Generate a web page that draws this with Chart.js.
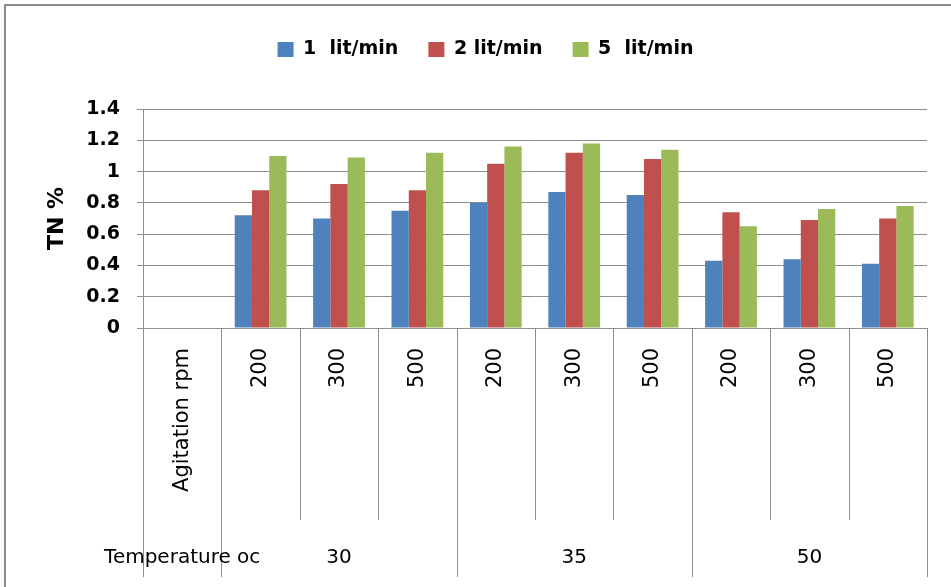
<!DOCTYPE html>
<html>
<head>
<meta charset="utf-8">
<script src="https://cdn.jsdelivr.net/npm/chart.js@4.4.1/dist/chart.umd.min.js"></script>
<style>
  body { margin: 0; background: #fff; }
  #wrap { position: relative; width: 951px; height: 587px; }
  #frame { position: absolute; left: 4px; top: 4px; right: 0; bottom: 0;
           border-top: 2px solid #8c8c8c; border-left: 2px solid #8c8c8c; pointer-events: none; }
</style>
</head>
<body>
<div id="wrap">
  <canvas id="chart" width="951" height="587"></canvas>
  <div id="frame"></div>
</div>
<script>
// categories on the x axis (first column is the row header)
const categories = ['Agitation rpm', '200', '300', '500', '200', '300', '500', '200', '300', '500'];
const groupTitle = 'Temperature oc';
const temperatures = ['30', '35', '50'];
const temperatureSpan = [3, 3, 3];

const seriesNames = ['1  lit/min', '2 lit/min', '5  lit/min'];
const flow1 = [null, 0.72, 0.70, 0.75, 0.80, 0.87, 0.85, 0.43, 0.44, 0.41];
const flow2 = [null, 0.88, 0.92, 0.88, 1.05, 1.12, 1.08, 0.74, 0.69, 0.70];
const flow5 = [null, 1.10, 1.09, 1.12, 1.16, 1.18, 1.14, 0.65, 0.76, 0.78];

const colors = ['#4F81BD', '#C0504D', '#9BBB59'];
const lineColor = '#8e8e8e';
const fontFamily = '"DejaVu Sans", sans-serif';

// draws the second level of the category axis: separators + temperature labels
const groupAxis = {
    id: 'groupAxis',
    afterDraw(chart) {
        const {ctx, chartArea, scales: {x}} = chart;
        const n = categories.length;
        const edge = i => {
            if (i <= 0) return chartArea.left;
            if (i >= n) return chartArea.right;
            return (x.getPixelForValue(i - 1) + x.getPixelForValue(i)) / 2;
        };
        const groupEdges = [0, 1];
        let k = 1;
        temperatureSpan.forEach(s => { k += s; groupEdges.push(k); });

        ctx.save();
        ctx.strokeStyle = lineColor;
        ctx.lineWidth = 1;
        for (let i = 0; i <= n; i++) {
            const xp = Math.round(edge(i)) + 0.5;
            const end = groupEdges.includes(i) ? x.bottom : x.bottom - 57;
            ctx.beginPath();
            ctx.moveTo(xp, chartArea.bottom);
            ctx.lineTo(xp, end);
            ctx.stroke();
        }
        ctx.fillStyle = '#000';
        ctx.font = '20px ' + fontFamily;
        ctx.textAlign = 'center';
        ctx.textBaseline = 'middle';
        const ly = x.bottom - 19;
        ctx.fillText(groupTitle, x.getPixelForValue(0), ly);
        let start = 1;
        temperatures.forEach((t, j) => {
            const s = temperatureSpan[j];
            ctx.fillText(t, (edge(start) + edge(start + s)) / 2, ly);
            start += s;
        });
        ctx.restore();
    }
};

new Chart(document.querySelector('#chart'), {
    type: 'bar',
    data: {
        labels: categories,
        datasets: [flow1, flow2, flow5].map((d, i) => ({
            label: seriesNames[i],
            data: d,
            backgroundColor: colors[i],
            borderColor: colors[i],
            borderWidth: 0,
            categoryPercentage: 0.66,
            barPercentage: 1
        }))
    },
    options: {
        responsive: false,
        animation: false,
        layout: { padding: { left: 44, right: 24, top: 10, bottom: 10 } },
        plugins: {
            legend: {
                position: 'top',
                weight: 3000,
                labels: {
                    boxWidth: 16,
                    boxHeight: 15,
                    padding: 30,
                    color: '#000',
                    font: { family: fontFamily, size: 19, weight: 'bold' }
                }
            },
            // empty title used as spacer between legend and plot
            title: {
                display: true,
                text: '',
                font: { size: 10 },
                padding: { top: 14, bottom: 14 }
            },
            tooltip: { enabled: false }
        },
        scales: {
            x: {
                grid: { display: false, drawTicks: false },
                border: { display: false },
                ticks: {
                    autoSkip: false,
                    minRotation: 90,
                    maxRotation: 90,
                    padding: 20,
                    color: '#000',
                    font: { family: fontFamily, size: 21 }
                },
                afterFit(scale) { scale.height = 249; }
            },
            y: {
                min: 0,
                max: 1.4,
                ticks: {
                    stepSize: 0.2,
                    padding: 17,
                    color: '#000',
                    font: { family: fontFamily, size: 19, weight: 'bold' },
                    callback: v => String(+v.toFixed(1))
                },
                grid: { color: lineColor, tickLength: 6 },
                border: { display: true, color: lineColor },
                title: {
                    display: true,
                    text: 'TN %',
                    color: '#000',
                    padding: 0,
                    font: { family: fontFamily, size: 22, weight: 'bold' }
                },
                afterFit(scale) { scale.width = 99; }
            }
        }
    },
    plugins: [groupAxis]
});
</script>
</body>
</html>
